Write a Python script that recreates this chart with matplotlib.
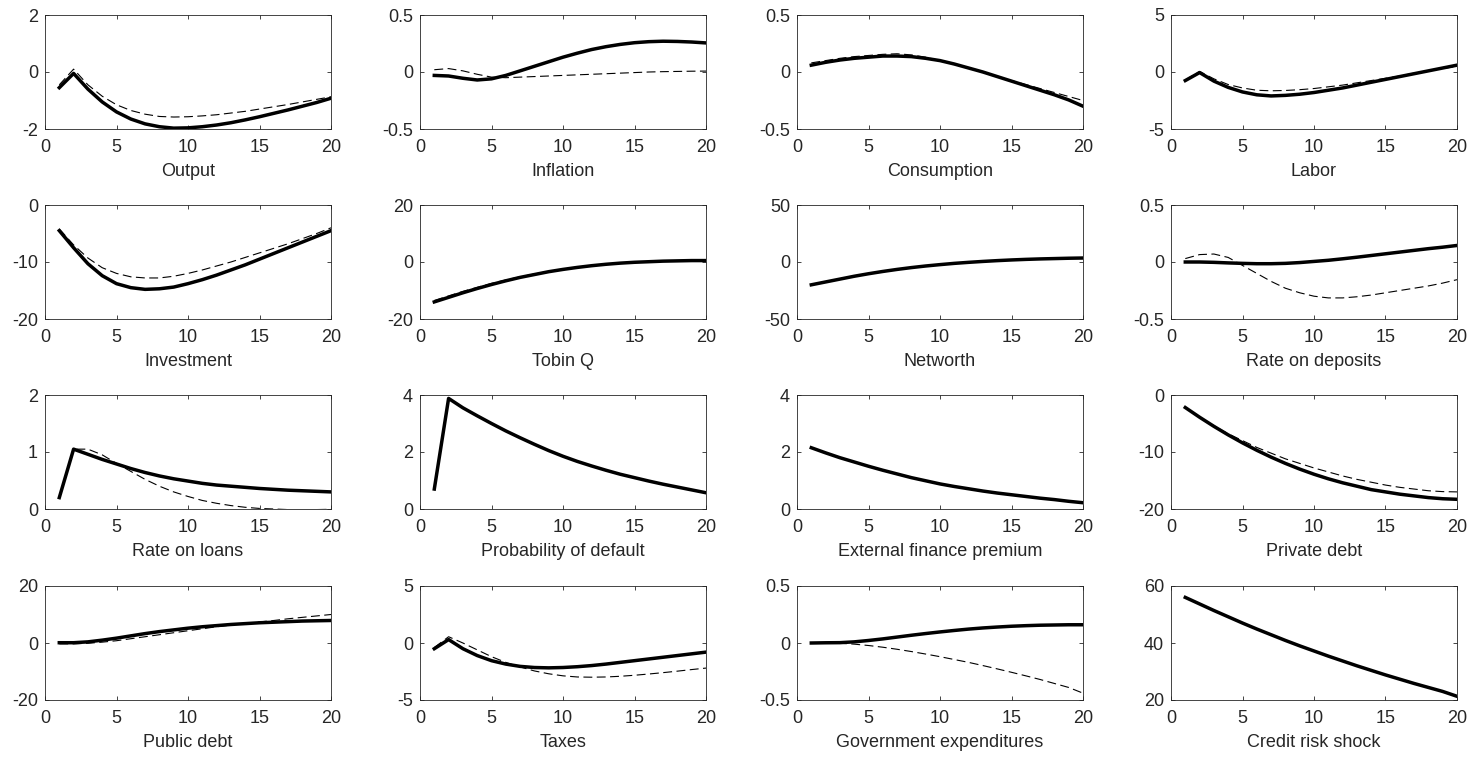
#!/usr/bin/env python3
"""Impulse responses to a credit risk shock, 4x4 grid (MATLAB-like style)."""

import matplotlib

matplotlib.use("Agg")
import matplotlib.pyplot as plt

plt.rcParams["font.family"] = ["Liberation Sans", "DejaVu Sans"]

periods = list(range(1, 21))

titles = [
    "Output", "Inflation", "Consumption", "Labor",
    "Investment", "Tobin Q", "Networth", "Rate on deposits",
    "Rate on loans", "Probability of default", "External finance premium", "Private debt",
    "Public debt", "Taxes", "Government expenditures", "Credit risk shock",
]

y_limits = [
    (-2, 2), (-0.5, 0.5), (-0.5, 0.5), (-5, 5),
    (-20, 0), (-20, 20), (-50, 50), (-0.5, 0.5),
    (0, 2), (0, 4), (0, 4), (-20, 0),
    (-20, 20), (-5, 5), (-0.5, 0.5), (20, 60),
]

output_solid = [-0.55, -0.05, -0.6, -1.05, -1.4, -1.65, -1.82, -1.92, -1.97, -1.96,
                -1.92, -1.86, -1.78, -1.68, -1.57, -1.45, -1.33, -1.2, -1.07, -0.92]
output_dash = [-0.45, 0.1, -0.45, -0.85, -1.15, -1.35, -1.48, -1.56, -1.58, -1.57,
               -1.54, -1.5, -1.44, -1.38, -1.3, -1.22, -1.14, -1.05, -0.96, -0.87]

inflation_solid = [-0.03, -0.035, -0.055, -0.07, -0.06, -0.03, 0.01, 0.05, 0.09, 0.13,
                   0.165, 0.197, 0.222, 0.242, 0.257, 0.266, 0.27, 0.268, 0.263, 0.255]
inflation_dash = [0.02, 0.03, 0.01, -0.02, -0.045, -0.05, -0.045, -0.04, -0.035, -0.03,
                  -0.025, -0.02, -0.015, -0.01, -0.005, 0.0, 0.003, 0.005, 0.007, 0.008]

consumption_solid = [0.06, 0.085, 0.105, 0.12, 0.13, 0.14, 0.14, 0.135, 0.12, 0.1,
                     0.07, 0.035, 0.0, -0.04, -0.08, -0.12, -0.16, -0.2, -0.245, -0.3]
consumption_dash = [0.08, 0.1, 0.12, 0.135, 0.145, 0.155, 0.16, 0.15, 0.13, 0.1,
                    0.07, 0.035, 0.0, -0.04, -0.075, -0.11, -0.145, -0.18, -0.215, -0.25]

labor_solid = [-0.75, -0.05, -0.8, -1.35, -1.75, -2.0, -2.1, -2.05, -1.95, -1.8,
               -1.6, -1.4, -1.15, -0.9, -0.65, -0.4, -0.15, 0.1, 0.35, 0.6]
labor_dash = [-0.7, 0.05, -0.6, -1.1, -1.4, -1.6, -1.65, -1.62, -1.55, -1.45,
              -1.3, -1.15, -0.95, -0.75, -0.55, -0.35, -0.1, 0.1, 0.3, 0.5]

investment_solid = [-4.5, -7.5, -10.3, -12.4, -13.8, -14.5, -14.8, -14.7, -14.4, -13.8,
                    -13.1, -12.3, -11.4, -10.5, -9.5, -8.5, -7.5, -6.5, -5.5, -4.5]
investment_dash = [-4.2, -7.0, -9.3, -11.0, -12.0, -12.6, -12.8, -12.8, -12.5, -12.0,
                   -11.4, -10.7, -10.0, -9.2, -8.4, -7.6, -6.8, -5.9, -5.0, -4.0]

tobinq_solid = [-14.0, -12.4, -10.8, -9.3, -7.9, -6.6, -5.4, -4.4, -3.4, -2.6,
                -1.9, -1.3, -0.8, -0.4, -0.1, 0.1, 0.3, 0.4, 0.5, 0.5]
tobinq_dash = [-13.5, -11.9, -10.3, -8.9, -7.5, -6.3, -5.2, -4.2, -3.3, -2.5,
               -1.8, -1.2, -0.7, -0.3, -0.05, 0.15, 0.3, 0.4, 0.5, 0.5]

networth_solid = [-20.0, -17.5, -15.0, -12.5, -10.3, -8.3, -6.5, -4.9, -3.5, -2.3,
                  -1.2, -0.3, 0.5, 1.2, 1.8, 2.3, 2.7, 3.0, 3.3, 3.5]
networth_dash = [-20.0, -17.5, -15.0, -12.5, -10.3, -8.3, -6.5, -4.9, -3.5, -2.3,
                 -1.2, -0.3, 0.5, 1.2, 1.8, 2.3, 2.7, 3.0, 3.3, 3.5]

deposits_solid = [0.0, 0.0, -0.003, -0.008, -0.012, -0.015, -0.015, -0.012, -0.005, 0.005,
                  0.015, 0.028, 0.042, 0.057, 0.072, 0.087, 0.102, 0.117, 0.13, 0.145]
deposits_dash = [0.03, 0.065, 0.07, 0.04, -0.03, -0.1, -0.17, -0.23, -0.27, -0.3,
                 -0.315, -0.315, -0.305, -0.29, -0.27, -0.25, -0.23, -0.21, -0.185, -0.155]

loans_solid = [0.2, 1.05, 0.96, 0.87, 0.79, 0.71, 0.64, 0.58, 0.53, 0.49,
               0.45, 0.42, 0.4, 0.38, 0.36, 0.345, 0.33, 0.32, 0.31, 0.3]
loans_dash = [0.2, 1.05, 1.05, 0.95, 0.8, 0.66, 0.52, 0.4, 0.3, 0.22,
              0.15, 0.1, 0.06, 0.03, 0.01, 0.0, -0.01, -0.01, -0.01, -0.005]

default_solid = [0.7, 3.88, 3.55, 3.27, 3.0, 2.74, 2.5, 2.27, 2.05, 1.85,
                 1.67, 1.51, 1.36, 1.22, 1.1, 0.98, 0.87, 0.77, 0.67, 0.57]
default_dash = [0.7, 3.88, 3.55, 3.27, 3.0, 2.74, 2.5, 2.27, 2.05, 1.85,
                1.67, 1.51, 1.36, 1.22, 1.1, 0.98, 0.87, 0.77, 0.67, 0.57]

premium_solid = [2.15, 1.97, 1.8, 1.65, 1.5, 1.36, 1.23, 1.1, 0.99, 0.88,
                 0.79, 0.71, 0.63, 0.56, 0.5, 0.44, 0.38, 0.33, 0.27, 0.22]
premium_dash = [2.15, 1.97, 1.8, 1.65, 1.5, 1.36, 1.23, 1.1, 0.99, 0.88,
                0.79, 0.71, 0.63, 0.56, 0.5, 0.44, 0.38, 0.33, 0.27, 0.22]

private_debt_solid = [-2.2, -3.9, -5.5, -7.0, -8.4, -9.7, -10.9, -12.0, -13.0, -13.9,
                      -14.7, -15.4, -16.0, -16.6, -17.0, -17.4, -17.7, -18.0, -18.2, -18.3]
private_debt_dash = [-2.2, -3.9, -5.4, -6.8, -8.0, -9.2, -10.2, -11.2, -12.0, -12.8,
                     -13.5, -14.2, -14.8, -15.3, -15.8, -16.2, -16.5, -16.8, -16.95, -17.0]

public_debt_solid = [0.1, 0.1, 0.4, 1.0, 1.7, 2.5, 3.3, 4.0, 4.6, 5.2,
                     5.7, 6.1, 6.5, 6.8, 7.1, 7.3, 7.5, 7.7, 7.8, 7.9]
public_debt_dash = [-0.3, -0.3, -0.1, 0.3, 0.8, 1.5, 2.2, 2.9, 3.6, 4.3,
                    5.0, 5.7, 6.3, 6.9, 7.4, 7.9, 8.5, 9.0, 9.5, 10.0]

taxes_solid = [-0.5, 0.3, -0.5, -1.1, -1.55, -1.85, -2.05, -2.15, -2.18, -2.15,
               -2.08, -1.98, -1.85, -1.7, -1.55, -1.4, -1.25, -1.1, -0.95, -0.8]
taxes_dash = [-0.4, 0.55, 0.0, -0.6, -1.2, -1.7, -2.1, -2.45, -2.7, -2.88,
              -2.98, -3.0, -2.98, -2.92, -2.83, -2.72, -2.6, -2.47, -2.33, -2.2]

gov_solid = [0.0, 0.002, 0.003, 0.01, 0.022, 0.036, 0.052, 0.068, 0.083, 0.097,
             0.11, 0.122, 0.132, 0.14, 0.147, 0.152, 0.156, 0.158, 0.16, 0.16]
gov_dash = [0.0, 0.0, -0.002, -0.01, -0.022, -0.037, -0.055, -0.075, -0.097, -0.12,
            -0.145, -0.17, -0.198, -0.227, -0.257, -0.288, -0.32, -0.355, -0.39, -0.44]

shock_solid = [56.0, 53.7, 51.4, 49.2, 47.0, 44.9, 42.9, 40.9, 39.0, 37.2,
               35.4, 33.7, 32.0, 30.4, 28.8, 27.3, 25.8, 24.4, 23.0, 21.3]
shock_dash = [56.0, 53.7, 51.4, 49.2, 47.0, 44.9, 42.9, 40.9, 39.0, 37.2,
              35.4, 33.7, 32.0, 30.4, 28.8, 27.3, 25.8, 24.4, 23.0, 21.3]

solid_series = [
    output_solid, inflation_solid, consumption_solid, labor_solid,
    investment_solid, tobinq_solid, networth_solid, deposits_solid,
    loans_solid, default_solid, premium_solid, private_debt_solid,
    public_debt_solid, taxes_solid, gov_solid, shock_solid,
]
dash_series = [
    output_dash, inflation_dash, consumption_dash, labor_dash,
    investment_dash, tobinq_dash, networth_dash, deposits_dash,
    loans_dash, default_dash, premium_dash, private_debt_dash,
    public_debt_dash, taxes_dash, gov_dash, shock_dash,
]


def tick_text(value: float) -> str:
    return f"{value:g}"


def main() -> int:
    width_px, height_px = 1469, 757
    figure = plt.figure(figsize=(width_px / 100, height_px / 100), dpi=100)
    col_left = [45, 420, 797, 1171]
    row_top = [15, 205, 395, 586]
    ax_w, ax_h = 286, 114
    edge = "#262626"
    for index, title in enumerate(titles):
        row, col = divmod(index, 4)
        left = col_left[col] / width_px
        bottom = 1 - (row_top[row] + ax_h) / height_px
        axis = figure.add_axes((left, bottom, ax_w / width_px, ax_h / height_px))
        axis.plot(periods, dash_series[index], color="black", linewidth=0.8,
                  linestyle=(0, (8, 4)))
        axis.plot(periods, solid_series[index], color="black", linewidth=2.5)
        low, high = y_limits[index]
        axis.set_xlim(0, 20)
        axis.set_ylim(low, high)
        axis.set_xticks([0, 5, 10, 15, 20])
        yticks = [low, (low + high) / 2, high]
        axis.set_yticks(yticks)
        axis.set_yticklabels([tick_text(v) for v in yticks])
        axis.tick_params(direction="in", top=True, right=True, length=3, width=0.6,
                         color=edge, labelcolor=edge, labelsize=13)
        axis.tick_params(axis="x", pad=7)
        axis.tick_params(axis="y", pad=5)
        for spine in axis.spines.values():
            spine.set_color(edge)
            spine.set_linewidth(0.6)
        axis.set_xlabel(title, fontsize=13, color=edge, labelpad=5)
    figure.savefig("out.png", dpi=100)
    plt.close(figure)
    return 0


if __name__ == "__main__":
    raise SystemExit(main())
